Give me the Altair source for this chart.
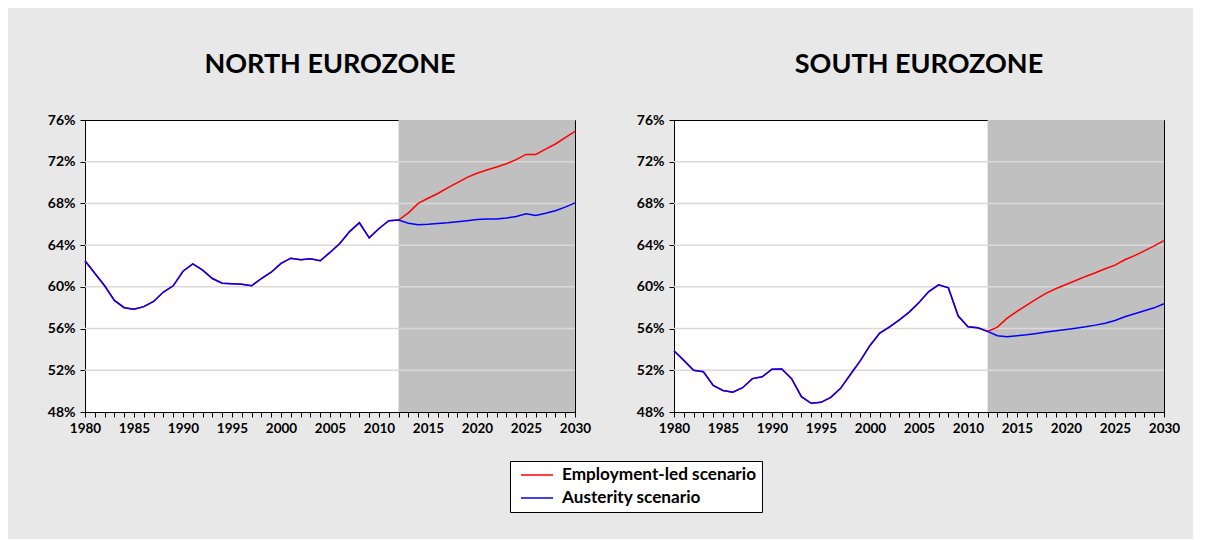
import altair as alt
import pandas as pd

# ---------------- data ----------------
years_hist = list(range(1980, 2013))
years_proj = list(range(2012, 2031))
years_all = list(range(1980, 2031))

series_names = ["Employment-led scenario", "Austerity scenario"]
series_colors = ["#ff0000", "#0000ff"]

north_hist = [62.5, 61.3, 60.1, 58.7, 58.0, 57.85, 58.1, 58.6, 59.5, 60.1,
              61.5, 62.2, 61.6, 60.8, 60.35, 60.3, 60.25, 60.1, 60.8, 61.4,
              62.25, 62.75, 62.6, 62.7, 62.5, 63.3, 64.15, 65.3, 66.15, 64.7,
              65.6, 66.35, 66.4]
north_emp = [66.4, 67.1, 68.0, 68.5, 68.95, 69.5, 70.0, 70.5, 70.9, 71.2,
             71.5, 71.8, 72.2, 72.7, 72.7, 73.2, 73.7, 74.3, 74.9]
north_aus = [66.4, 66.1, 65.95, 66.0, 66.08, 66.15, 66.25, 66.35, 66.45, 66.5,
             66.5, 66.6, 66.75, 67.0, 66.85, 67.05, 67.3, 67.65, 68.05]

south_hist = [53.87, 52.95, 52.0, 51.86, 50.55, 50.07, 49.9, 50.33, 51.2, 51.38,
              52.1, 52.12, 51.2, 49.47, 48.83, 48.93, 49.4, 50.27, 51.6, 52.9,
              54.38, 55.57, 56.17, 56.84, 57.58, 58.5, 59.55, 60.2, 59.9, 57.2,
              56.17, 56.07, 55.73]
south_emp = [55.73, 56.14, 57.0, 57.64, 58.25, 58.85, 59.4, 59.84, 60.23, 60.61,
             61.0, 61.35, 61.73, 62.08, 62.6, 63.0, 63.45, 63.93, 64.44]
south_aus = [55.73, 55.31, 55.21, 55.31, 55.4, 55.53, 55.66, 55.79, 55.92, 56.04,
             56.17, 56.33, 56.52, 56.78, 57.13, 57.42, 57.7, 57.99, 58.38]

y_ticks = [48, 52, 56, 60, 64, 68, 72, 76]
grid_values = [52, 56, 60, 64, 68, 72]
shade_start, shade_end = 2012, 2030


def series_frame(hist, proj, name):
    years = years_hist + years_proj[1:]
    vals = hist + proj[1:]
    return pd.DataFrame({"year": years, "value": vals, "series": name})


FONT = "Lato"

x_scale = alt.Scale(domain=[1980, 2030], nice=False, zero=False)
y_scale = alt.Scale(domain=[48, 76], nice=False, zero=False)

x_axis = alt.Axis(values=years_all, labelExpr="datum.value % 5 == 0 ? datum.value : ''",
                  title=None, grid=False, tickSize=5, tickColor="black", domainColor="black",
                  labelFont=FONT, labelFontWeight="bold", labelFontSize=13.5, labelColor="black",
                  labelPadding=4, labelOverlap=False, labelFlush=False)
y_axis = alt.Axis(values=y_ticks, labelExpr="datum.value + '%'", title=None, grid=False,
                  tickSize=5, tickColor="black", domainColor="black",
                  labelFont=FONT, labelFontWeight="bold", labelFontSize=14, labelColor="black",
                  labelPadding=5)

color_scale = alt.Scale(domain=series_names, range=series_colors)


def panel(hist, emp, aus, title):
    df_emp = series_frame(hist, emp, series_names[0])
    df_aus = series_frame(hist, aus, series_names[1])
    shade_df = pd.DataFrame({"start": [shade_start], "end": [shade_end],
                             "lo": [y_ticks[0]], "hi": [y_ticks[-1]]})
    grid_df = pd.DataFrame({"v": grid_values})

    shade = alt.Chart(shade_df).mark_rect(color="#c0c0c0").encode(
        x=alt.X("start:Q", scale=x_scale, axis=x_axis), x2="end:Q",
        y=alt.Y("lo:Q", scale=y_scale, axis=y_axis), y2="hi:Q")
    grid = alt.Chart(grid_df).mark_rule(color="#d9d9d9", strokeWidth=1.5).encode(
        y=alt.Y("v:Q", scale=y_scale, axis=y_axis))

    legend = alt.Legend(title=None, orient="none", legendX=425, legendY=341,
                        symbolType="M-0.375,0H3.625", symbolSize=256, symbolStrokeWidth=1.5,
                        labelFont=FONT, labelFontWeight="bold", labelFontSize=17.2,
                        labelColor="black", fillColor="white", strokeColor="black",
                        padding=5, rowPadding=5, labelOffset=29, labelLimit=400)

    def line(df):
        return alt.Chart(df).mark_line(strokeWidth=1.5).encode(
            x=alt.X("year:Q", scale=x_scale, axis=x_axis),
            y=alt.Y("value:Q", scale=y_scale, axis=y_axis),
            color=alt.Color("series:N", scale=color_scale, legend=legend))

    return alt.layer(shade, grid, line(df_emp), line(df_aus)).properties(
        width=490, height=292,
        title=alt.TitleParams(title, font=FONT, fontSize=27, fontWeight="bold",
                              color="black", anchor="middle", offset=34))


north = panel(north_hist, north_emp, north_aus, "NORTH EUROZONE")
south = panel(south_hist, south_emp, south_aus, "SOUTH EUROZONE")

chart = alt.hconcat(north, south, spacing=43).properties(
    background="#e8e8e8",
    padding={"left": 38, "top": 42, "right": 12, "bottom": 26},
).configure_view(stroke="black", strokeWidth=1, fill="white")

chart.save("out.html", embed_options={"renderer": "svg", "actions": False})
